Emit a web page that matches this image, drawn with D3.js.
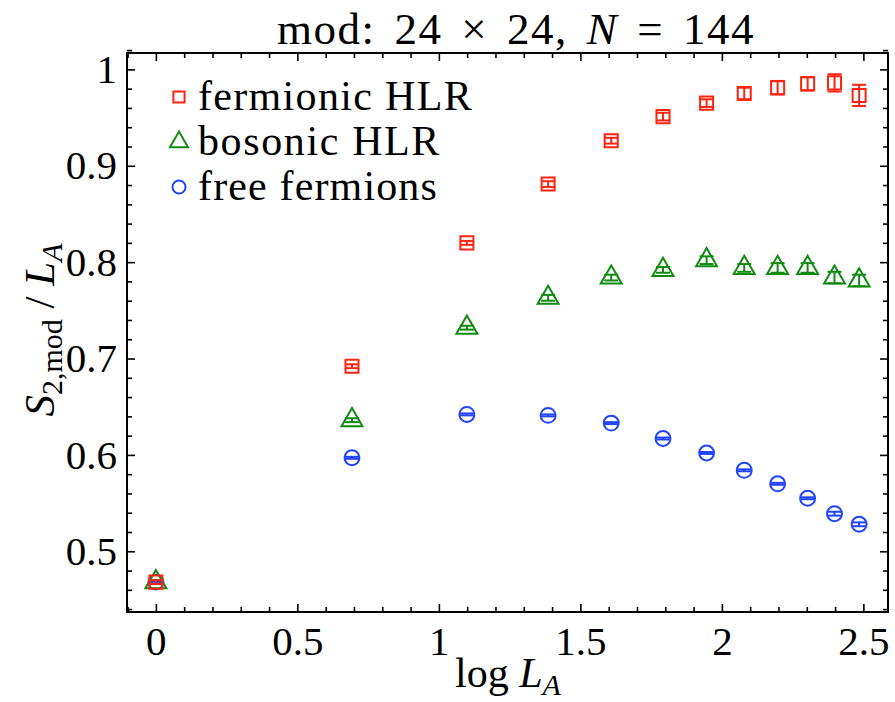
<!DOCTYPE html>
<html><head><meta charset="utf-8">
<script src="https://cdn.jsdelivr.net/npm/d3@7"></script>
<style>body{margin:0;background:#fff}svg{display:block}text{font-family:"Liberation Serif","Times New Roman",serif;fill:#000}</style>
</head><body><svg id="c" width="895" height="702"></svg>
<script>
const logLA = [0, 0.693, 1.099, 1.386, 1.609, 1.792, 1.946, 2.079, 2.197, 2.303, 2.398, 2.485];
const fermionic = [0.468, 0.692, 0.820, 0.881, 0.926, 0.951, 0.965, 0.975, 0.981, 0.985, 0.986, 0.973];
const fermionicErr = [0.002, 0.002, 0.002, 0.003, 0.003, 0.004, 0.004, 0.006, 0.007, 0.007, 0.009, 0.011];
const bosonic = [0.468, 0.636, 0.732, 0.763, 0.784, 0.792, 0.802, 0.794, 0.794, 0.794, 0.784, 0.781];
const bosonicErr = [0.002, 0.002, 0.002, 0.003, 0.003, 0.003, 0.004, 0.004, 0.005, 0.005, 0.006, 0.006];
const free = [0.468, 0.597, 0.642, 0.641, 0.633, 0.617, 0.602, 0.584, 0.570, 0.555, 0.539, 0.528];
const freeErr = [0.001, 0.001, 0.001, 0.001, 0.001, 0.001, 0.001, 0.001, 0.001, 0.001, 0.002, 0.002];
const seriesNames = ["fermionic HLR", "bosonic HLR", "free fermions"];
const xTicks = [0, 0.5, 1, 1.5, 2, 2.5];
const xTickLabels = ["0", "0.5", "1", "1.5", "2", "2.5"];
const yTicks = [0.5, 0.6, 0.7, 0.8, 0.9, 1];
const yTickLabels = ["0.5", "0.6", "0.7", "0.8", "0.9", "1"];

const svg = d3.select("#c");
const L = 127, R = 888, T = 53, B = 612;
const x = d3.scaleLinear().domain([-0.102, 2.587]).range([L, R]);
const y = d3.scaleLinear().domain([0.437, 1.017]).range([B, T]);

const xMinor = d3.range(-0.1, 2.6001, 0.1).map(v => +v.toFixed(2)).filter(v => !xTicks.includes(v) && v >= -0.102 && v <= 2.587);
const yMinor = d3.range(0.44, 1.0201, 0.02).map(v => +v.toFixed(2)).filter(v => !yTicks.some(t => Math.abs(t - v) < 1e-6));

function styleAxis(g) {
  g.select(".domain").remove();
  g.selectAll(".tick line").attr("stroke", "#000").attr("stroke-width", 1.6);
  g.selectAll("text").style("font-size", "41px").attr("fill", "#000");
}
const fmtX = d => xTickLabels[xTicks.indexOf(d)];
const fmtY = d => yTickLabels[yTicks.indexOf(d)];

svg.append("g").attr("transform", `translate(0,${B})`)
  .call(d3.axisBottom(x).tickValues(xTicks).tickFormat(fmtX).tickSize(-8).tickPadding(14)).call(styleAxis);
svg.append("g").attr("transform", `translate(0,${B})`)
  .call(d3.axisBottom(x).tickValues(xMinor).tickFormat("").tickSize(-5)).call(styleAxis);
svg.append("g").attr("transform", `translate(0,${T})`)
  .call(d3.axisTop(x).tickValues(xTicks).tickFormat("").tickSize(-8)).call(styleAxis);
svg.append("g").attr("transform", `translate(0,${T})`)
  .call(d3.axisTop(x).tickValues(xMinor).tickFormat("").tickSize(-5)).call(styleAxis);
svg.append("g").attr("transform", `translate(${L},0)`)
  .call(d3.axisLeft(y).tickValues(yTicks).tickFormat(fmtY).tickSize(-8).tickPadding(10)).call(styleAxis);
svg.append("g").attr("transform", `translate(${L},0)`)
  .call(d3.axisLeft(y).tickValues(yMinor).tickFormat("").tickSize(-5)).call(styleAxis);
svg.append("g").attr("transform", `translate(${R},0)`)
  .call(d3.axisRight(y).tickValues(yTicks).tickFormat("").tickSize(-8)).call(styleAxis);
svg.append("g").attr("transform", `translate(${R},0)`)
  .call(d3.axisRight(y).tickValues(yMinor).tickFormat("").tickSize(-5)).call(styleAxis);

svg.append("rect").attr("x", L).attr("y", T).attr("width", R - L).attr("height", B - T)
  .attr("fill", "none").attr("stroke", "#000").attr("stroke-width", 2);

const series = [
  {vals: fermionic, err: fermionicErr, color: "#ff2410", sym: d3.symbolSquare, size: 170, lsize: 125},
  {vals: bosonic, err: bosonicErr, color: "#108a10", sym: d3.symbolTriangle, size: 190, lsize: 140},
  {vals: free, err: freeErr, color: "#2244ff", sym: d3.symbolCircle, size: 175, lsize: 135}
];

const plot = svg.append("g");
series.slice().reverse().forEach(s => {
  const g = plot.append("g").attr("stroke", s.color).attr("fill", "none").attr("stroke-width", 2);
  const cw = 7;
  logLA.forEach((lx, i) => {
    const cx = x(lx), y0 = y(s.vals[i] - s.err[i]), y1 = y(s.vals[i] + s.err[i]);
    g.append("line").attr("x1", cx).attr("x2", cx).attr("y1", y0).attr("y2", y1);
    g.append("line").attr("x1", cx - cw).attr("x2", cx + cw).attr("y1", y0).attr("y2", y0);
    g.append("line").attr("x1", cx - cw).attr("x2", cx + cw).attr("y1", y1).attr("y2", y1);
    g.append("path").attr("d", d3.symbol().type(s.sym).size(s.size)())
      .attr("transform", `translate(${cx},${y(s.vals[i])})`);
  });
});

const legY = [97, 142, 187];
series.forEach((s, i) => {
  svg.append("path").attr("d", d3.symbol().type(s.sym).size(s.lsize)())
    .attr("transform", `translate(179,${legY[i]})`)
    .attr("fill", "none").attr("stroke", s.color).attr("stroke-width", 2);
});
const legW = [275, 243, 240];
seriesNames.forEach((n, i) => {
  const t = svg.append("text").attr("x", 198).attr("y", legY[i] + 13).style("font-size", "42px").text(n);
  const w = t.node().getComputedTextLength();
  t.style("letter-spacing", ((legW[i] - w) / n.length) + "px");
});

// title
const title = svg.append("text").attr("x", 277).attr("y", 44).style("font-size", "45px").style("letter-spacing", "1.5px");
title.append("tspan").text("mod: 24 × 24, ");
title.append("tspan").style("font-style", "italic").text("N");
title.append("tspan").text(" = 144");
const tw = title.node().getComputedTextLength();
title.style("word-spacing", Math.max(0, (478 - tw) / 6) + "px");

// x label
const xl = svg.append("text").attr("x", 508).attr("y", 687).attr("text-anchor", "middle").style("font-size", "42px");
xl.append("tspan").text("log ");
xl.append("tspan").style("font-style", "italic").text("L");
xl.append("tspan").style("font-style", "italic").style("font-size", "30px").attr("dy", 8).text("A");

// y label
const yl = svg.append("text").attr("transform", "translate(54,330) rotate(-90)").attr("text-anchor", "middle").style("font-size", "43px");
yl.append("tspan").style("font-style", "italic").text("S");
yl.append("tspan").style("font-size", "30px").attr("dy", 8).text("2,mod");
yl.append("tspan").attr("dy", -8).text(" / ");
yl.append("tspan").style("font-style", "italic").text("L");
yl.append("tspan").style("font-style", "italic").style("font-size", "30px").attr("dy", 8).text("A");
</script></body></html>
